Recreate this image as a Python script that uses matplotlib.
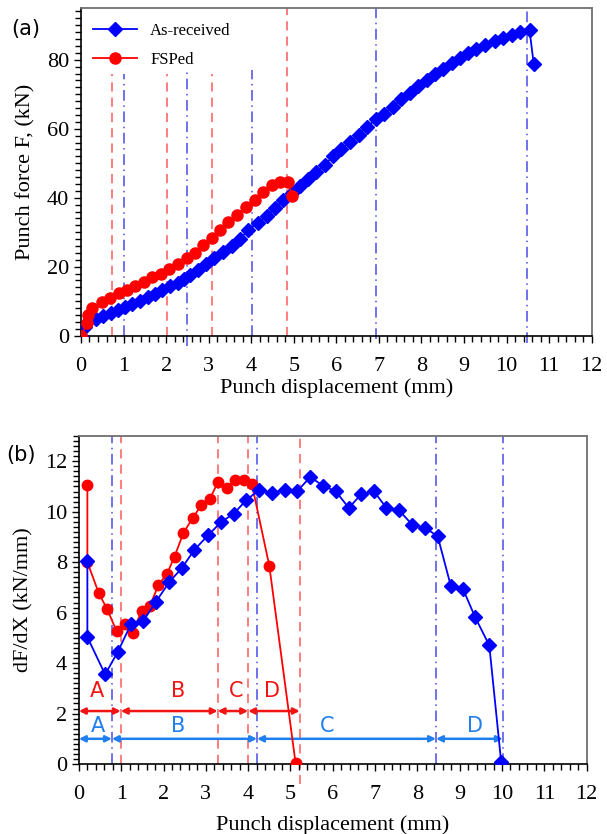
import numpy as np
import matplotlib
matplotlib.use('Agg')
import matplotlib.pyplot as plt
from matplotlib.ticker import MultipleLocator

# ---- panel (a): punch force vs displacement ----
asr_x = [0, 0.1, 0.35, 0.52, 0.7, 0.88, 1.03, 1.2, 1.39, 1.57, 1.74, 1.91, 2.09, 2.27,
         2.42, 2.56, 2.74, 2.93, 3.13, 3.34, 3.54, 3.73, 3.93, 4.15, 4.36, 4.56, 4.75,
         4.95, 5.14, 5.34, 5.53, 5.73, 5.93, 6.12, 6.32, 6.53, 6.72, 6.93, 7.12, 7.33,
         7.53, 7.72, 7.92, 8.12, 8.31, 8.51, 8.71, 8.90, 9.10, 9.29, 9.49, 9.72, 9.92,
         10.12, 10.31, 10.54, 10.64]
asr_f = [0, 2.4, 4.8, 5.7, 6.7, 7.5, 8.2, 9.2, 10.2, 11.2, 12.1, 13.1, 14.3, 15.4,
         16.5, 17.6, 19.1, 20.8, 22.5, 24.4, 26.1, 28.1, 30.5, 32.7, 34.6, 37.0, 39.2,
         41.4, 43.3, 45.5, 47.4, 49.6, 52.0, 54.2, 56.1, 58.3, 60.6, 62.7, 64.4, 66.4,
         68.5, 70.3, 72.4, 74.0, 75.8, 77.2, 79.2, 80.6, 81.9, 83.0, 84.2, 85.5, 86.4,
         87.2, 87.9, 88.6, 78.7]
fsp_x = [0, 0.15, 0.16, 0.27, 0.49, 0.69, 0.89, 1.07, 1.28, 1.49, 1.68, 1.88, 2.07,
         2.27, 2.48, 2.68, 2.87, 3.07, 3.27, 3.46, 3.67, 3.88, 4.09, 4.28, 4.48, 4.67,
         4.87, 4.96]
fsp_f = [0, 3.6, 6.0, 8.0, 9.8, 11.0, 12.3, 13.3, 14.4, 15.5, 17.0, 17.9, 19.4,
         20.8, 22.5, 24.1, 26.2, 28.3, 30.7, 32.9, 35.1, 37.3, 39.4, 41.7, 43.8, 44.6,
         44.5, 40.6]

# stage boundaries in (a): (x, ymin, ymax)
fsp_lines_a = [(0.72, 0, 76), (2.01, 0, 76), (3.07, 0, 76), (4.83, 0, 95)]
asr_lines_a = [(1.01, 0, 76), (2.48, -3, 77), (4.03, 0, 77), (6.94, -1, 95), (10.49, -2, 95)]

# ---- panel (b): dF/dX vs displacement ----
asr_bx = [0.2, 0.2, 0.62, 0.92, 1.23, 1.52, 1.82, 2.14, 2.43, 2.73, 3.05, 3.36, 3.66,
          3.95, 4.25, 4.57, 4.86, 5.16, 5.47, 5.77, 6.07, 6.38, 6.67, 6.97, 7.27, 7.57,
          7.88, 8.18, 8.48, 8.79, 9.08, 9.36, 9.70, 9.98]
asr_by = [8.05, 5.03, 3.55, 4.45, 5.54, 5.67, 6.43, 7.22, 7.76, 8.49, 9.06, 9.59, 9.92,
          10.45, 10.85, 10.76, 10.85, 10.81, 11.38, 11.02, 10.81, 10.15, 10.69, 10.81,
          10.15, 10.05, 9.48, 9.36, 9.03, 7.06, 6.93, 5.84, 4.70, 0.09]
fsp_bx = [0.2, 0.2, 0.47, 0.67, 0.89, 1.09, 1.27, 1.48, 1.68, 1.88, 2.08, 2.26, 2.47,
          2.69, 2.89, 3.09, 3.29, 3.50, 3.70, 3.90, 4.09, 4.50, 5.12]
fsp_by = [11.05, 8.0, 6.77, 6.13, 5.27, 5.56, 5.18, 6.08, 6.27, 7.10, 7.53, 8.22, 9.16,
          9.75, 10.25, 10.50, 11.18, 10.94, 11.27, 11.27, 11.08, 7.86, 0.05]

fsp_bounds_b = [0, 0.99, 3.28, 4.0, 5.22]
asr_bounds_b = [0, 0.78, 4.21, 8.44, 10.02]
stages = ['A', 'B', 'C', 'D']
fsp_label_x = [0.42, 2.34, 3.72, 4.57]
asr_label_x = [0.45, 2.34, 5.87, 9.36]

BLUE = '#0000ff'
RED = '#ff0000'
VBLUE = '#4b4be6'
VRED = '#ff5a5a'
ARED = '#f01414'
ABLUE = '#1f7ff0'

plt.rcParams['font.family'] = 'Liberation Serif'
plt.rcParams['mathtext.fontset'] = 'stix'


def style_axes(ax):
    ax.set_xlim(0, 12)
    ax.xaxis.set_major_locator(MultipleLocator(1))
    ax.xaxis.set_minor_locator(MultipleLocator(0.2))
    ax.tick_params(which='both', direction='out', labelsize=16, width=1)
    ax.tick_params(which='major', length=5)
    ax.tick_params(which='minor', length=4)
    ax.tick_params(axis='x', pad=10)
    for s in ['top', 'right']:
        ax.spines[s].set_color('#707070')
        ax.spines[s].set_linewidth(1.3)
    for s in ['left', 'bottom']:
        ax.spines[s].set_linewidth(1.2)


fig = plt.figure(figsize=(6.07, 8.34), dpi=100)

# (a)
ax1 = fig.add_axes([0.1334, 0.5975, 0.8413, 0.3929])
for x, y0, y1 in fsp_lines_a:
    ax1.plot([x, x], [y0, y1], color=VRED, ls=(0, (6, 4)), lw=1.1, clip_on=False, zorder=1)
for x, y0, y1 in asr_lines_a:
    ax1.plot([x, x], [y0, y1], color=VBLUE, ls=(0, (7, 3, 1, 3)), lw=1.1, clip_on=False, zorder=1)
ax1.plot(asr_x, asr_f, color=BLUE, marker='D', ms=6.8, lw=1.3, label='As-received', zorder=3)
ax1.plot(fsp_x, fsp_f, color=RED, marker='o', ms=8, lw=1.3, label='FSPed', zorder=4)
style_axes(ax1)
ax1.set_ylim(0, 95)
ax1.yaxis.set_major_locator(MultipleLocator(20))
ax1.yaxis.set_minor_locator(MultipleLocator(2))
ax1.set_xlabel('Punch displacement (mm)', fontsize=16, labelpad=2)
ax1.set_ylabel('Punch force F, (kN)', fontsize=16, labelpad=8)
ax1.legend(loc='upper left', bbox_to_anchor=(-0.005, 1.0), frameon=False, fontsize=12,
           handlelength=2.6, handletextpad=0.8, labelspacing=0.75)
fig.text(0.042, 0.965, '(a)', fontsize=15, family='DejaVu Sans', ha='center', va='center')

# (b)
ax2 = fig.add_axes([0.130, 0.0839, 0.8364, 0.3933])
for x in fsp_bounds_b[1:]:
    y0 = -0.8 if x == fsp_bounds_b[-1] else 0
    ax2.plot([x, x], [y0, 13], color=VRED, ls=(0, (6, 4)), lw=1.1, clip_on=False, zorder=1)
for x in asr_bounds_b[1:]:
    ax2.plot([x, x], [0, 13], color=VBLUE, ls=(0, (7, 3, 1, 3)), lw=1.1, clip_on=False, zorder=1)
ax2.plot(fsp_bx, fsp_by, color=RED, marker='o', ms=7.5, lw=1.3, zorder=3)
ax2.plot(asr_bx, asr_by, color=BLUE, marker='D', ms=7, lw=1.3, zorder=4)

for i in range(4):
    ax2.annotate('', xy=(fsp_bounds_b[i + 1], 2.1), xytext=(fsp_bounds_b[i], 2.1),
                 arrowprops=dict(arrowstyle='<|-|>', color=ARED, lw=1.8,
                                 mutation_scale=9, shrinkA=0, shrinkB=0), zorder=2)
    ax2.annotate('', xy=(asr_bounds_b[i + 1], 1.0), xytext=(asr_bounds_b[i], 1.0),
                 arrowprops=dict(arrowstyle='<|-|>', color=ABLUE, lw=1.8,
                                 mutation_scale=9, shrinkA=0, shrinkB=0), zorder=2)
    ax2.text(fsp_label_x[i], 2.9, stages[i], color=ARED, fontsize=15,
             family='DejaVu Sans', ha='center', va='center')
    ax2.text(asr_label_x[i], 1.52, stages[i], color=ABLUE, fontsize=15,
             family='DejaVu Sans', ha='center', va='center')

style_axes(ax2)
ax2.set_ylim(0, 13)
ax2.yaxis.set_major_locator(MultipleLocator(2))
ax2.yaxis.set_minor_locator(MultipleLocator(0.2))
ax2.set_xlabel('Punch displacement (mm)', fontsize=16, labelpad=8)
ax2.set_ylabel('dF/dX (kN/mm)', fontsize=16, labelpad=8)
fig.text(0.034, 0.455, '(b)', fontsize=15, family='DejaVu Sans', ha='center', va='center')

fig.savefig('out.png', dpi=100)
